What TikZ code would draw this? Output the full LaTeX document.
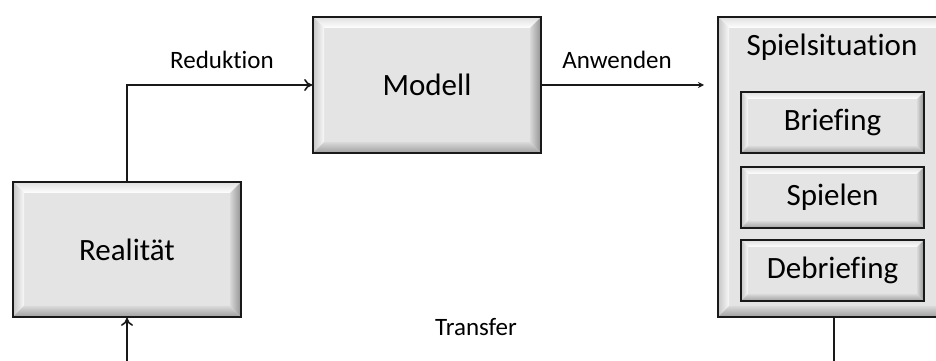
\documentclass[tikz,border=0pt]{standalone}
\usepackage{fontspec}
\setmainfont[Ligatures=NoCommon]{Carlito}
\usetikzlibrary{arrows.meta,calc}
\definecolor{boxgray}{HTML}{E4E4E4}
\newcommand\bevelpaint[1]{%
  \path (path picture bounding box.south west) coordinate (bsw)
        (path picture bounding box.north east) coordinate (bne);
  \path (bsw) ++(#1,#1) coordinate (isw);
  \path (bne) ++(-#1,-#1) coordinate (ine);
  \shade[top color=gray!25, bottom color=white]
    (bsw|-bne) -- (bne) -- (ine) -- (isw|-ine) -- cycle;
  \shade[left color=gray!45, right color=gray!5]
    (bsw) -- (bsw|-bne) -- (isw|-ine) -- (isw) -- cycle;
  \shade[left color=gray!30, right color=gray!85]
    (bne|-bsw) -- (bne) -- (ine) -- (ine|-isw) -- cycle;
  \shade[top color=gray!30, bottom color=gray!75]
    (bsw) -- (isw) -- (ine|-isw) -- (bne|-bsw) -- cycle;
}
\tikzset{
  bevelbox/.style={draw=black!90, line width=1.8pt, fill=boxgray,
    inner sep=0pt, path picture={\bevelpaint{#1}}},
  bigfont/.style={font=\fontsize{31}{37}\selectfont},
  lblfont/.style={font=\fontsize{25}{30}\selectfont},
  conn/.style={line width=2pt, draw=black!90},
  opentip/.style={-{To[length=8pt,width=12pt,line width=1.6pt]}},
}
\begin{document}
\begin{tikzpicture}[x=1pt,y=1pt]
\useasboundingbox (0,0) rectangle (936,361);
% boxes
\node[bevelbox=11, minimum width=228, minimum height=135, bigfont] (real) at (127,111.5) {Realität};
\node[bevelbox=11, minimum width=228, minimum height=136, bigfont] (modell) at (427,276) {Modell};
\node[bevelbox=11, minimum width=229, minimum height=300] (spiel) at (832.5,194) {};
\node[bigfont] (title) at (832,314) {Spielsituation};
\node[bevelbox=7, minimum width=183, minimum height=61, bigfont] (brief) at (832.5,238.5) {Briefing};
\node[bevelbox=7, minimum width=183, minimum height=61, bigfont] (spielen) at (832.5,163.5) {Spielen};
\node[bevelbox=7, minimum width=183, minimum height=61, bigfont] (debrief) at (832.5,90.5) {Debriefing};
% labels
\node[lblfont] (lred) at (222,301) {Reduktion};
\node[lblfont] (lanw) at (617,301) {Anwenden};
\node[lblfont] (ltra) at (476,34) {Transfer};
% connectors
\coordinate (anwend) at (704,276);
\coordinate (rbot) at (127,0);
\coordinate (sbot) at (834,0);
\draw[conn, opentip] (real.north) |- (modell.west);
\draw[conn, -{Stealth[length=6pt,width=6pt]}] (modell.east) -- (anwend);
\draw[conn, opentip] (rbot) -- (real.south);
\draw[conn] (spiel.south -| sbot) -- (sbot);
\end{tikzpicture}
\end{document}
